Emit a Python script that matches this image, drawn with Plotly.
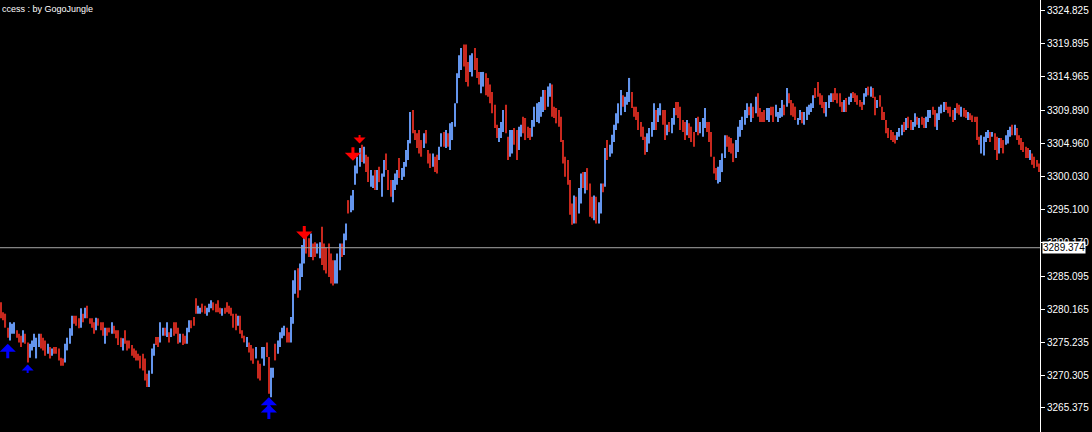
import plotly.graph_objects as go

# ---- bar data (price highs / lows, direction R = down bar, B = up bar) ----
high_1 = [3281.2,3279.7,3279.5,3277.4,3278.2,3278.0,3278.2,3277.0,3276.5,3276.2,
          3277.0,3276.5,3275.2,3275.0,3275.5,3276.5,3275.9,3276.5,3276.5,3275.9,
          3275.5,3275.0,3274.5,3274.3,3274.5,3274.5,3274.3,3272.9,3272.8,3275.0,
          3275.9,3277.3,3279.2,3279.2,3279.2,3278.8,3280.3,3279.5,3280.4,3280.7,
          3278.8,3278.8,3278.2,3278.9,3278.8,3278.2,3278.2,3277.4,3277.4,3277.4,
          3278.2,3277.7,3277.0,3277.0,3275.9,3275.8,3277.0,3275.5,3275.5,3274.8,
          3274.3,3274.0,3273.5]
low_1 = [3278.8,3278.5,3277.4,3275.9,3275.5,3276.5,3276.5,3275.9,3275.2,3274.5,
         3275.2,3275.0,3272.2,3272.9,3274.0,3274.5,3272.8,3274.5,3274.3,3274.0,
         3273.2,3273.5,3272.8,3273.2,3273.5,3273.5,3272.5,3271.7,3271.7,3272.2,
         3274.0,3275.0,3276.2,3278.0,3277.7,3277.3,3277.4,3278.2,3278.8,3278.8,
         3278.0,3277.4,3276.5,3277.0,3277.7,3277.0,3276.2,3275.0,3276.2,3276.7,
         3276.5,3276.5,3275.8,3274.8,3274.5,3274.0,3275.0,3274.0,3274.3,3273.2,
         3272.9,3272.5,3272.5]
dir_1 = "RRRRBBBRRR" "BRRBBBBBRR" "RBRBRRRRRB" "BBBRRRBRBR" "RRRBRRRBRR" "BRRRRBRRRR" "RRR"

high_2 = [3273.2,3273.5,3272.8,3270.5,3271.0,3274.3,3275.0,3276.0,3276.0,3278.2,
          3277.4,3277.4,3278.2,3276.7,3277.3,3278.2,3278.2,3277.4,3276.5,3276.5,
          3276.2,3277.4,3278.5,3278.5,3279.0,3281.8,3280.7,3280.4,3281.0,3280.7,
          3280.4,3281.0,3281.5,3281.2,3281.0,3281.5,3280.4,3280.3,3280.4,3281.2,
          3280.7,3280.4,3279.5,3279.5,3279.2,3279.2,3277.0,3276.2,3276.0,3275.2,
          3274.8,3274.3,3274.5,3272.5,3272.0,3274.5,3274.5,3275.2,3273.0,3271.4,
          3271.4,3275.0,3275.5,3276.7,3277.4,3277.7,3277.4,3276.7,3279.0,3284.5,
          3286.0,3286.3]
low_2 = [3271.3,3271.0,3269.5,3268.5,3268.5,3270.5,3273.2,3274.8,3274.5,3275.2,
         3276.2,3276.2,3276.0,3275.2,3276.0,3276.2,3276.5,3275.0,3275.2,3274.8,
         3275.0,3275.0,3276.7,3277.3,3277.7,3279.5,3279.5,3279.5,3279.7,3279.5,
         3279.2,3279.7,3280.3,3280.0,3279.7,3279.7,3279.5,3279.2,3279.5,3279.7,
         3279.5,3279.2,3277.4,3277.0,3277.7,3276.5,3275.8,3275.2,3274.5,3273.7,
         3272.5,3272.0,3272.8,3269.8,3269.5,3272.8,3271.7,3273.0,3267.5,3267.0,
         3269.9,3272.5,3273.5,3274.5,3275.8,3276.2,3275.2,3275.2,3275.2,3278.0,
         3282.5,3281.9]
dir_2 = "RRRRBBBRRB" "BRBRBRRRBR" "RBBRRRBBRR" "BBBRRRRBRR" "RRRRBRRRBR" "RRBRRBBRRB" "BRBBBBRRBB" "BR"

high_3 = [3287.0,3289.8,3291.0,3291.5,3290.8,3291.5,3290.0,3290.2,3290.0,3290.2,
          3292.5,3290.0,3289.4,3290.0,3288.5,3287.5,3287.5,3288.5,3290.0,3290.0,
          3291.5,3293.0,3296.5,3297.2,3298.0,3301.7,3303.0,3304.3,3304.8,3304.5,
          3303.3,3303.0,3301.0,3300.2,3301.0,3301.0,3301.5,3300.5,3302.5,3303.5,
          3301.0,3299.5,3299.5,3300.5,3301.0,3302.8,3301.3,3302.2,3304.0,3305.5,
          3309.7,3310.0,3307.0,3306.5,3307.0,3305.5,3306.5,3307.0,3304.0,3303.5,
          3303.5,3303.0,3303.3,3304.5,3306.5,3306.7,3307.0,3306.5,3308.0]
low_3 = [3283.0,3285.0,3287.0,3288.5,3288.0,3288.0,3287.5,3288.0,3288.5,3287.8,
         3286.8,3286.0,3285.5,3285.0,3284.0,3283.7,3284.0,3284.0,3286.0,3288.0,
         3288.3,3290.5,3294.5,3294.7,3295.0,3298.8,3300.5,3301.5,3302.2,3302.0,
         3300.7,3299.2,3298.5,3298.3,3298.0,3298.0,3299.2,3297.0,3300.0,3301.0,
         3298.0,3297.0,3296.2,3298.0,3298.8,3299.8,3299.5,3300.0,3301.5,3302.5,
         3305.0,3306.5,3305.5,3304.3,3303.5,3303.0,3304.3,3305.0,3302.0,3301.3,
         3301.5,3300.7,3300.5,3302.5,3304.5,3304.5,3304.3,3304.5,3304.0]
dir_3 = "BBBRRBRRBB" "RRRRRRBBBR" "BBRBBBBBRB" "RRBBRBRBBR" "RRBBBRBBBB" "BRRRRRBRRR" "BRRBBRBRB"

high_4 = [3308.2,3311.0,3315.5,3318.2,3319.3,3319.8,3319.8,3317.2,3318.2,
          3318.5,3319.3,3317.8,3315.7,3315.7,3315.7,3315.5,3314.8,
          3313.8,3312.7,3310.8,3307.8,3307.3,3308.2,3310.0,3310.8,3306.0,
          3307.0,3307.0,3307.3,3307.0,3307.5,3307.8,3309.0,3308.8,
          3307.5,3307.3,3308.5,3310.5,3311.0,3311.2,3312.0,3313.0,3313.0,
          3313.5,3314.0,3313.8,3310.5,3310.3,3310.0,3309.0]
low_4 = [3305.5,3307.5,3311.0,3314.8,3316.0,3316.5,3314.2,3313.5,3315.7,
         3315.0,3316.0,3314.8,3313.8,3312.5,3313.5,3312.2,3312.0,
         3311.0,3309.5,3307.3,3305.8,3305.2,3305.8,3306.7,3306.5,3302.5,
         3303.0,3303.5,3304.8,3302.5,3304.0,3306.0,3306.5,3305.5,
         3305.8,3305.5,3306.0,3307.5,3308.2,3308.0,3309.0,3309.7,3310.0,
         3310.5,3312.0,3309.0,3308.8,3308.0,3307.5,3305.2]
dir_4 = "BBBBBRRRB" "BRRRBBRR" "RRRRBBBRR" "BBRRBBRR" "RRBBBBBBR" "BBRRRRR"

high_5 = [3305.5,3303.0,3302.5,3299.5,3296.0,3297.2,3297.0,3298.3,3300.5,3300.7,
          3300.7,3301.3,3299.0,3297.0,3297.2,3297.0,3296.2,3299.0,3299.0,3304.3,3305.5,
          3304.8,3306.3,3307.8,3309.5,3311.0,3313.0,3312.2,3312.0,3312.7,3314.8,3312.7,
          3310.5,3310.5,
          3309.7,3308.2,3307.5,3306.0,3306.5,3307.3,3308.2,3311.0,3310.0,3310.3,3311.0,
          3310.0,3310.0,3307.8,3308.2,3308.8,3310.3,3311.2,3311.2,3310.5,3308.5,3308.2,
          3308.5,3308.0,3307.5,3306.7,3308.8,3309.0,3308.2,
          3308.8,3310.3,3308.2,3308.2,3306.7,3303.0,3301.3,3301.5,3302.5,
          3303.5,3306.2,3306.2,3306.0,3305.8,3305.0,3305.5,3307.5,3308.5,3309.0,3310.0,
          3311.0,3310.5,3311.0,3310.5,3312.0,3312.5,3310.3,3309.7,
          3310.0,3310.3,
          3310.3,
          3310.5,3310.5,3310.8,3309.7,3310.3,3311.5,3310.8,3313.3,3312.5,3311.5]
low_5 = [3302.0,3300.0,3298.8,3294.3,3292.8,3293.0,3293.0,3294.5,3296.0,3298.3,
         3297.5,3298.0,3294.0,3293.8,3293.5,3293.0,3293.0,3294.5,3297.7,3298.5,3302.5,
         3303.0,3303.5,3305.2,3307.0,3308.0,3309.2,3310.5,3309.7,3310.8,3311.2,3310.3,
         3309.0,3308.5,
         3307.0,3306.0,3305.5,3303.3,3303.7,3305.0,3306.0,3307.0,3307.0,3308.2,3309.2,
         3307.8,3305.5,3306.2,3306.7,3306.5,3307.8,3309.2,3308.8,3307.0,3306.7,3305.5,
         3306.2,3305.8,3305.2,3304.5,3306.7,3306.2,3306.5,
         3306.0,3307.3,3306.7,3305.2,3303.0,3300.5,3299.5,3299.0,3299.2,
         3300.7,3302.8,3304.5,3303.7,3303.5,3302.2,3302.8,3303.7,3306.0,3307.0,3307.8,
         3308.8,3309.2,3308.2,3308.8,3309.5,3309.0,3308.2,3308.2,
         3308.2,3308.5,
         3308.2,
         3309.2,3308.2,3309.0,3308.2,3308.8,3309.0,3309.2,3310.5,3311.0,3309.2]
dir_5 = ("RRRRRBRBBR" "BRRRBRBBRBR" "BBBBBBRBBBR" "RR" "RRRRBBBBRBB" "RRBRBBRRRRR"
         "BRRRBRB" "BBRRRRRBB" "BBRRRRBBBBBBRBRBRRR" "RB" "B" "RRBBBBRBRR")

high_6 = [3311.0,3310.5,3308.8,3310.0,3309.7,3309.7,3310.5,3310.8,3311.0,3312.2,
          3313.3,3314.2,3312.5,3312.2,3311.2,3311.2,3312.2,3312.5,
          3312.5,3313.3,
          3312.5,3312.5,3311.2,3311.5,3311.8,
          3312.0,3312.5,3312.7,3312.5,3312.2,
          3311.5,3311.2,3312.5,3313.3,3313.5,3313.5,3313.3,3312.0,
          3311.5,3312.2,3310.5,3309.7,3308.5,3307.3,3307.0,3306.7,3306.2,
          3306.7,3307.3,3307.8,3308.2,3308.8,3309.0,3308.5,3308.2,
          3309.5,3309.0,3308.8,3309.0,3308.8,3309.0,
          3310.0,3310.0,3310.5,3310.0,3309.5,3310.5,3310.8,
          3311.2,3311.2,3310.5,
          3310.5,3310.0,3310.3,3311.0,3310.8,3310.5,3310.3,3310.0,3309.7,3309.5,3309.2,
          3309.0,3309.0,3306.0,3306.2,3306.0,3306.7,3307.0,3306.7,3306.7,3306.5,
          3306.0,3305.8,3305.8,3305.5,3306.2,3307.0,3307.5,3307.8,3307.8,
          3307.3,3306.2,3305.8,3305.2,3304.5,3304.3,3304.0,3303.5,3303.0,3302.5,3302.0]
low_6 = [3309.0,3308.5,3307.8,3308.5,3308.0,3307.8,3308.5,3309.3,3309.7,3310.3,
         3311.8,3312.0,3310.8,3310.3,3309.5,3309.0,3310.3,3311.2,
         3311.2,3311.5,
         3311.0,3310.5,3309.7,3309.7,3309.7,
         3310.8,3311.2,3311.8,3311.2,3310.8,
         3310.5,3310.0,3310.8,3312.0,3312.2,3312.0,3311.8,3309.2,
         3310.3,3310.5,3308.5,3308.5,3306.5,3305.8,3305.5,3305.2,3305.0,
         3305.5,3306.0,3306.2,3306.7,3307.0,3307.3,3307.0,3307.0,
         3307.5,3307.8,3307.3,3307.8,3307.3,3307.3,
         3308.2,3308.8,3309.3,3307.5,3307.0,3308.5,3309.5,
         3309.7,3310.0,3309.5,
         3309.0,3308.2,3308.5,3309.5,3309.3,3309.0,3309.0,3308.8,3308.5,3308.5,3308.2,
         3308.2,3305.5,3304.8,3303.5,3303.2,3305.2,3305.8,3305.2,3306.0,3304.0,
         3302.5,3303.5,3304.3,3303.5,3304.8,3305.0,3306.0,3306.2,3306.2,
         3305.5,3304.8,3304.0,3303.7,3302.8,3302.8,3302.5,3301.8,3301.3,3301.5,3300.7]
dir_6 = ("RRBBRBBBBBRRRRRBBB" "RR" "RRRBR" "BBRRR" "RRBBRBRR" "BRRRRRRRR" "BBBRBRRB"
         "BRBRRB" "BBRRBBB" "BRR" "RRBRRBRRBRR" "RRRBBBBRBRRBRRBBBRB" "RRRRRRBRRRR")

high = high_1 + high_2 + high_3 + high_4 + high_5 + high_6
low = low_1 + low_2 + low_3 + low_4 + low_5 + low_6
direction = dir_1 + dir_2 + dir_3 + dir_4 + dir_5 + dir_6
for h, l, d in [(high_1, low_1, dir_1), (high_2, low_2, dir_2), (high_3, low_3, dir_3),
                (high_4, low_4, dir_4), (high_5, low_5, dir_5), (high_6, low_6, dir_6)]:
    assert len(h) == len(l) == len(d), (len(h), len(l), len(d))

# ---- axis ticks / levels ----
tick_vals = [3324.825, 3319.895, 3314.965, 3309.890, 3304.960, 3300.030, 3295.100,
             3290.170, 3285.095, 3280.165, 3275.235, 3270.305, 3265.375]
tick_text = ["3324.825", "3319.895", "3314.965", "3309.890", "3304.960", "3300.030", "3295.100",
             "3290.170", "3285.095", "3280.165", "3275.235", "3270.305", "3265.375"]
price_line = 3289.374
price_label = "3289.374"
y_range = [3261.78, 3326.47]
title_text = "ccess : by GogoJungle"

# signal arrows: bar index, tip price, size
buy_bars = [3, 12, 121, 121]
buy_prices = [3275.0, 3271.9, 3267.0, 3265.9]
buy_big = [True, False, True, True]
sell_bars = [137, 159, 162]
sell_prices = [3290.6, 3302.4, 3305.0]
sell_big = [True, True, False]

UP_COLOR = "#6495ED"
DOWN_COLOR = "#C8281E"

n = len(high)
up_x = [i for i in range(n) if direction[i] == "B"]
dn_x = [i for i in range(n) if direction[i] == "R"]

fig = go.Figure()
fig.add_trace(go.Bar(x=up_x, y=[high[i] - low[i] for i in up_x], base=[low[i] for i in up_x],
                     width=0.5, marker=dict(color=UP_COLOR, line=dict(width=0)),
                     hoverinfo="skip", showlegend=False))
fig.add_trace(go.Bar(x=dn_x, y=[high[i] - low[i] for i in dn_x], base=[low[i] for i in dn_x],
                     width=0.5, marker=dict(color=DOWN_COLOR, line=dict(width=0)),
                     hoverinfo="skip", showlegend=False))

annotations = []
for b, p, big in zip(buy_bars, buy_prices, buy_big):
    annotations.append(dict(x=b, y=p, xref="x", yref="y", text="", showarrow=True,
                            ax=0, ay=16 if big else 10, arrowhead=1,
                            arrowwidth=3 if big else 2, arrowsize=0.9 if big else 1.0,
                            arrowcolor="#0000FF", standoff=0))
for b, p, big in zip(sell_bars, sell_prices, sell_big):
    annotations.append(dict(x=b, y=p, xref="x", yref="y", text="", showarrow=True,
                            ax=0, ay=-15 if big else -10, arrowhead=1,
                            arrowwidth=3 if big else 2, arrowsize=0.9 if big else 1.0,
                            arrowcolor="#FF0000", standoff=0))
annotations.append(dict(x=0, y=1, xref="paper", yref="paper", xanchor="left", yanchor="top",
                        text=title_text, showarrow=False, yshift=-2,
                        font=dict(family="Liberation Sans", size=9, color="#FFFFFF")))
annotations.append(dict(x=1, y=price_line, xref="paper", yref="y", xanchor="left", yanchor="middle",
                        text=price_label, showarrow=False, xshift=2, bgcolor="#FFFFFF",
                        borderpad=0, font=dict(family="Liberation Sans", size=10, color="#000000")))

fig.update_layout(
    width=1092, height=432,
    margin=dict(l=0, r=52, t=0, b=0, autoexpand=False),
    paper_bgcolor="#000000", plot_bgcolor="#000000",
    barmode="overlay", showlegend=False,
    annotations=annotations,
    shapes=[dict(type="line", xref="paper", yref="y", x0=0, x1=1, y0=price_line, y1=price_line,
                 line=dict(color="#A8A8A8", width=1))],
    xaxis=dict(range=[-0.5, n - 0.5], visible=False, showgrid=False, zeroline=False,
               rangeslider=dict(visible=False)),
    yaxis=dict(range=y_range, side="right", tickvals=tick_vals, ticktext=tick_text,
               ticks="outside", ticklen=4, tickcolor="#FFFFFF", showline=True,
               linecolor="#FFFFFF", linewidth=1, showgrid=False, zeroline=False,
               tickfont=dict(family="Liberation Sans", size=10, color="#FFFFFF")),
)

fig.write_html("out.html", config={"displayModeBar": False},
               post_script="document.body.style.margin='0px';document.body.style.background='#000';")
